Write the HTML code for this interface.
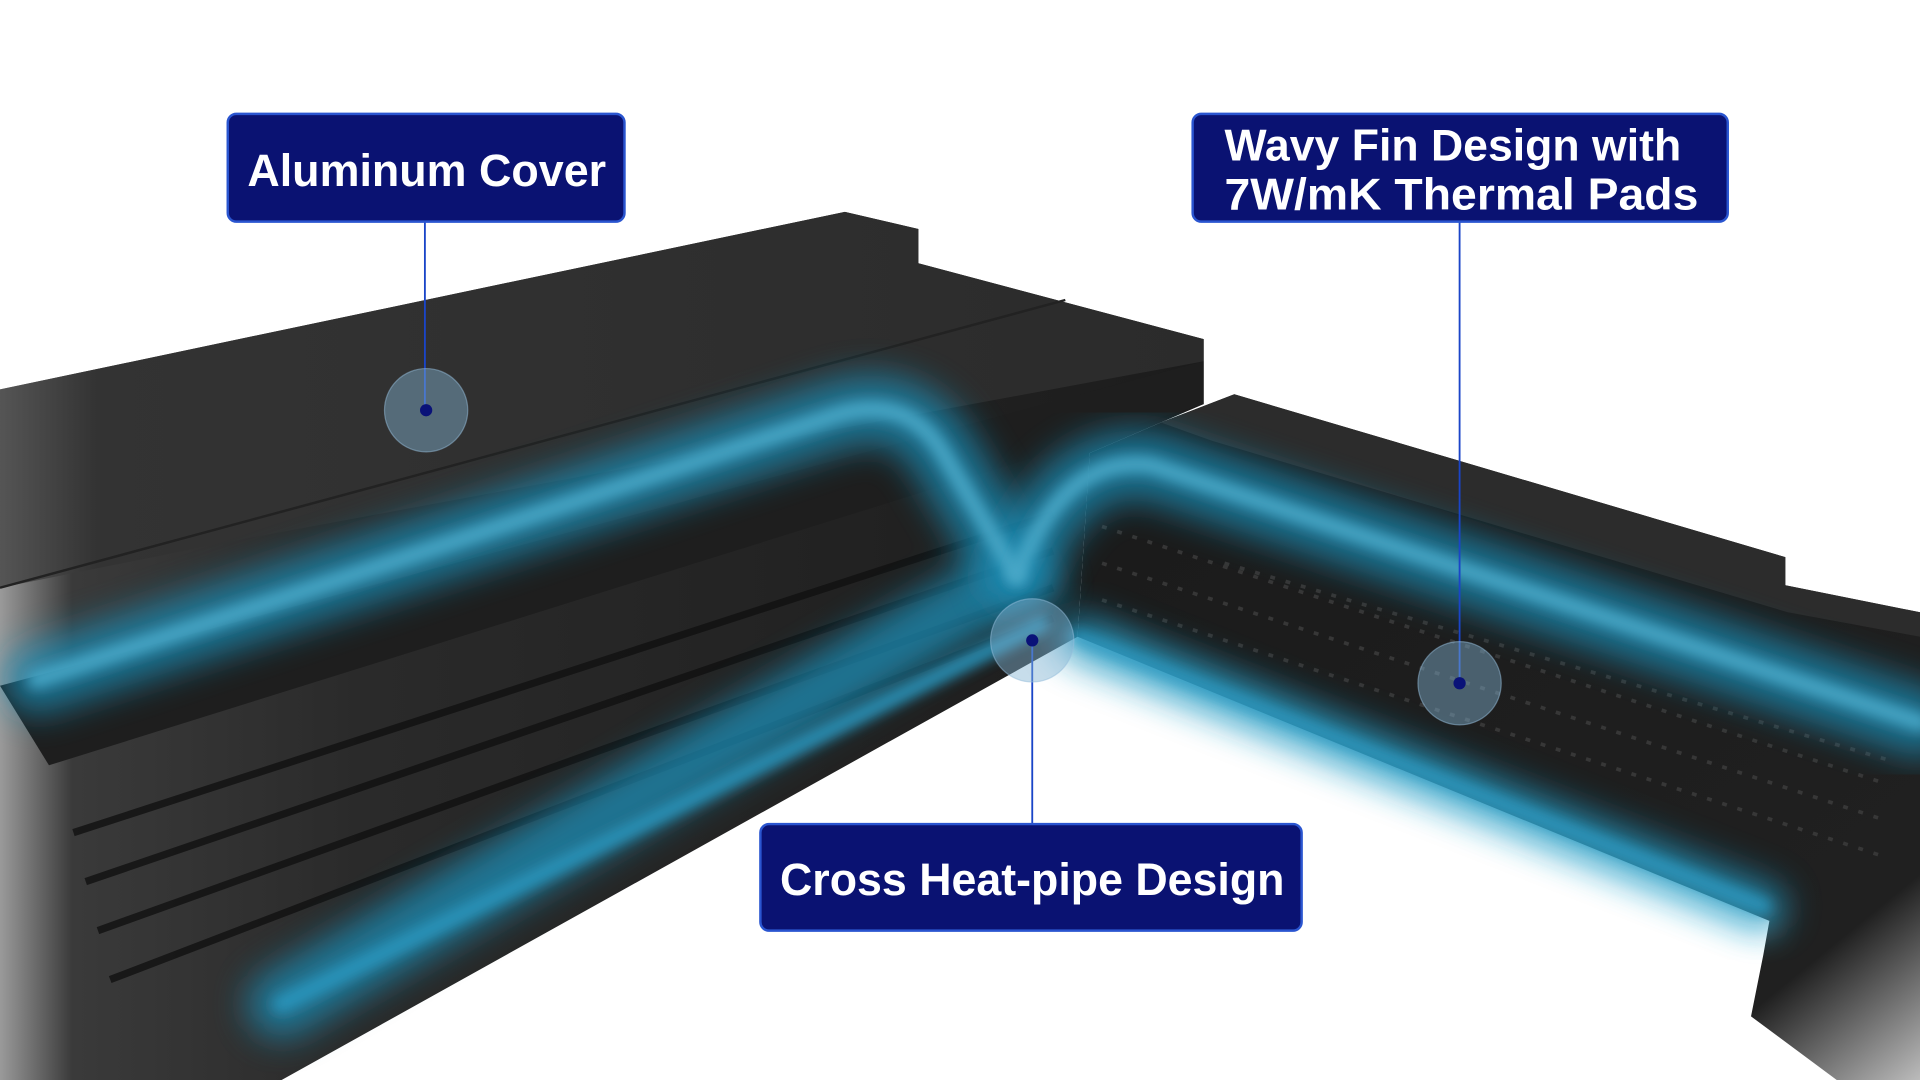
<!DOCTYPE html>
<html><head><meta charset="utf-8"><style>
html,body{margin:0;padding:0;background:#fff;overflow:hidden}
svg{display:block}
text{font-family:"Liberation Sans",sans-serif;font-weight:bold;fill:#fff}
</style></head><body>
<svg width="1920" height="1080" viewBox="0 0 1568 882" preserveAspectRatio="none" xmlns="http://www.w3.org/2000/svg">
<defs>
<linearGradient id="lf" x1="0" y1="0" x2="1" y2="0">
<stop offset="0" stop-color="#9a9a9a"/><stop offset="0.06" stop-color="#3a3a3a"/><stop offset="0.3" stop-color="#2a2a2a"/><stop offset="1" stop-color="#1c1c1c"/></linearGradient>
<linearGradient id="top" x1="0" y1="0" x2="1" y2="0">
<stop offset="0" stop-color="#555"/><stop offset="0.08" stop-color="#333"/><stop offset="1" stop-color="#2b2b2b"/></linearGradient>
<linearGradient id="rf" x1="0" y1="0" x2="1" y2="1">
<stop offset="0" stop-color="#1a1a1a"/><stop offset="0.85" stop-color="#202020"/><stop offset="1" stop-color="#bbb"/></linearGradient>
<filter id="blur" x="-20%" y="-20%" width="140%" height="140%"><feGaussianBlur stdDeviation="14"/></filter>
<filter id="b2" x="-20%" y="-20%" width="140%" height="140%"><feGaussianBlur stdDeviation="5"/></filter>
</defs>
<rect width="1568" height="882" fill="#fff"/>
<polygon points="0,318 690,173 750,187 750,215 983,277 983,330 948,345 890,370 880,520 230,882 0,882" fill="url(#lf)"/>
<polygon points="0,318 690,173 750,187 750,215 983,277 983,295 200,440 0,480" fill="url(#top)"/>
<polygon points="0,560 983,295 983,330 40,625" fill="#1e1e1e"/>
<g stroke="#111" stroke-width="6" opacity="0.8">
<line x1="60" y1="680" x2="860" y2="420"/><line x1="70" y1="720" x2="860" y2="450"/><line x1="80" y1="760" x2="860" y2="480"/><line x1="90" y1="800" x2="860" y2="505"/>
</g>
<line x1="0" y1="480" x2="870" y2="245" stroke="#222" stroke-width="2"/>
<polygon points="948,345 1008,322 1458,455 1458,478 1568,500 1568,882 1500,882 1430,830 1440,780 1445,752 880,520 890,370" fill="url(#rf)"/>
<polygon points="948,345 1008,322 1458,455 1458,478 1568,500 1568,520 1460,500 990,360" fill="#2c2c2c"/>
<g stroke="#3a3a3a" stroke-width="3" stroke-dasharray="4 9" opacity="0.9">
<line x1="900" y1="430" x2="1540" y2="640"/><line x1="900" y1="460" x2="1540" y2="670"/><line x1="900" y1="490" x2="1540" y2="700"/><line x1="1000" y1="460" x2="1540" y2="620"/>
</g>
<path d="M885,525 L1445,755" stroke="#8fe8ff" stroke-width="14" filter="url(#blur)" opacity="0.8"/>
<g fill="none" stroke-linecap="round">
<path d="M30,555 L680,340 Q740,320 770,370 L830,470 L230,820" stroke="#1a8fb8" stroke-width="56" filter="url(#blur)" opacity="0.75"/>
<path d="M830,470 Q870,370 940,380 L1568,590" stroke="#1a8fb8" stroke-width="56" filter="url(#blur)" opacity="0.75"/>
<path d="M880,520 L1440,740" stroke="#1a8fb8" stroke-width="40" filter="url(#blur)" opacity="0.7"/>
<path d="M30,555 L680,340 Q740,320 770,370 L830,470" stroke="#4aa8c8" stroke-width="14" filter="url(#b2)" opacity="0.9"/>
<path d="M830,470 Q870,370 940,380 L1568,590" stroke="#4aa8c8" stroke-width="14" filter="url(#b2)" opacity="0.9"/>
<path d="M850,510 L230,820" stroke="#2a98c0" stroke-width="14" filter="url(#b2)" opacity="0.85"/>
<path d="M880,520 L1440,740" stroke="#2a98c0" stroke-width="12" filter="url(#b2)" opacity="0.85"/>
</g>
<g stroke="#1a45c8" stroke-width="1.5">
<line x1="347" y1="181" x2="347" y2="335"/>
<line x1="1192" y1="181" x2="1192" y2="558"/>
<line x1="843" y1="523" x2="843" y2="673"/>
</g>
<g fill="rgba(130,180,210,0.45)" stroke="rgba(150,190,220,0.5)">
<circle cx="348" cy="335" r="34"/><circle cx="843" cy="523" r="34"/><circle cx="1192" cy="558" r="34"/>
</g>
<g fill="#0a1278"><circle cx="348" cy="335" r="5"/><circle cx="843" cy="523" r="5"/><circle cx="1192" cy="558" r="5"/></g>
<g fill="#0a1272" stroke="#2a55d0" stroke-width="2">
<rect x="186" y="93" width="324" height="88" rx="7"/>
<rect x="974" y="93" width="437" height="88" rx="7"/>
<rect x="621" y="673" width="442" height="87" rx="7"/>
</g>
<text x="202" y="152" font-size="37" textLength="293" lengthAdjust="spacingAndGlyphs">Aluminum Cover</text>
<text x="1000" y="131" font-size="36" textLength="373" lengthAdjust="spacingAndGlyphs">Wavy Fin Design with</text>
<text x="1000" y="171" font-size="36" textLength="387" lengthAdjust="spacingAndGlyphs">7W/mK Thermal Pads</text>
<text x="637" y="731" font-size="37" textLength="412" lengthAdjust="spacingAndGlyphs">Cross Heat-pipe Design</text>
</svg>
</body></html>
